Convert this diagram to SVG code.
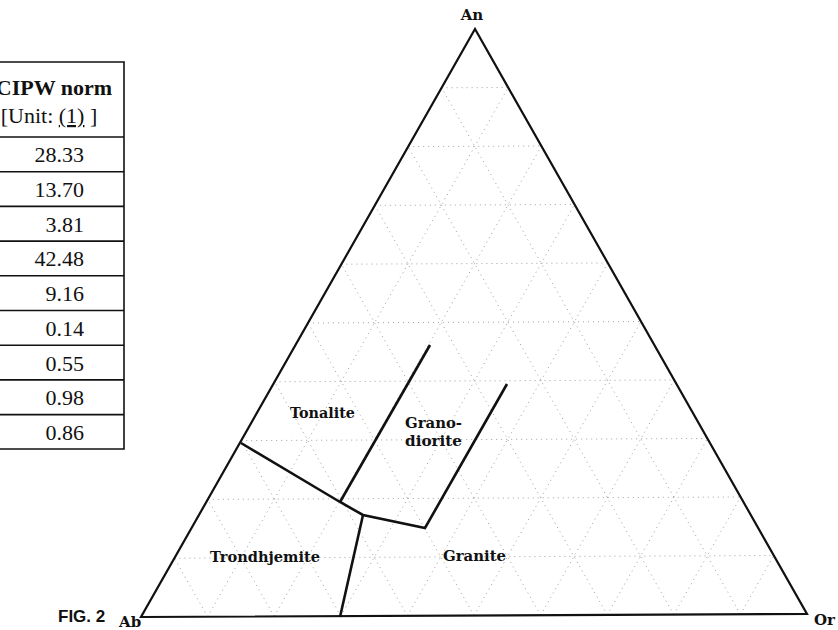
<svg xmlns="http://www.w3.org/2000/svg" width="838" height="630" viewBox="0 0 838 630">
<style>
.tb{fill:none;stroke:#111;stroke-width:1.6}
.tv{font-family:"Liberation Serif",serif;font-size:22px;fill:#111;text-anchor:end}
.th{font-family:"Liberation Serif",serif;font-size:22px;fill:#111;text-anchor:middle}
.grid{fill:none;stroke:#a0a0a0;stroke-width:1;stroke-dasharray:1 4}
.edge{fill:none;stroke:#111;stroke-width:2.2;stroke-linejoin:miter}
.bd{fill:none;stroke:#111;stroke-width:2.6;stroke-linejoin:miter}
.field{font-family:"DejaVu Serif",serif;font-weight:bold;font-size:15px;fill:#111}
.apex{font-family:"DejaVu Serif",serif;font-weight:bold;font-size:15px;fill:#111}
.fig{font-family:"Liberation Sans",sans-serif;font-weight:bold;font-size:17px;fill:#111}
</style>
<rect width="838" height="630" fill="#fff"/>
<g id="table">
<polyline class="tb" points="0,62 124,62 124,449 0,449"/>
<line class="tb" x1="0" y1="137" x2="124" y2="137"/>
<line class="tb" x1="0" y1="171.7" x2="124" y2="171.7"/>
<line class="tb" x1="0" y1="206.4" x2="124" y2="206.4"/>
<line class="tb" x1="0" y1="241.1" x2="124" y2="241.1"/>
<line class="tb" x1="0" y1="275.8" x2="124" y2="275.8"/>
<line class="tb" x1="0" y1="310.5" x2="124" y2="310.5"/>
<line class="tb" x1="0" y1="345.2" x2="124" y2="345.2"/>
<line class="tb" x1="0" y1="379.9" x2="124" y2="379.9"/>
<line class="tb" x1="0" y1="414.6" x2="124" y2="414.6"/>
<text class="th" x="54" y="95" font-weight="bold">CIPW norm</text>
<text class="th" x="49" y="123">[Unit: <tspan text-decoration="underline">(1)</tspan> ]</text>
<text class="tv" x="84" y="162">28.33</text>
<text class="tv" x="84" y="197">13.70</text>
<text class="tv" x="84" y="232">3.81</text>
<text class="tv" x="84" y="266">42.48</text>
<text class="tv" x="84" y="301">9.16</text>
<text class="tv" x="84" y="336">0.14</text>
<text class="tv" x="84" y="371">0.55</text>
<text class="tv" x="84" y="405">0.98</text>
<text class="tv" x="84" y="440">0.86</text>
</g>
<g id="grid">
<path class="grid" d="M174.4,558.2L773.8,555.5M207.8,499.4L740.6,497M241.2,440.6L707.4,438.5M274.6,381.8L674.2,380M308,323L641,321.5M341.4,264.2L607.8,263M374.8,205.4L574.6,204.5M408.2,146.6L541.4,146M441.6,87.8L508.2,87.5"/>
<path class="grid" d="M207.6,616.7L508.2,87.5M274.2,616.4L541.4,146M340.8,616.1L574.6,204.5M407.4,615.8L607.8,263M474,615.5L641,321.5M540.6,615.2L674.2,380M607.2,614.9L707.4,438.5M673.8,614.6L740.6,497M740.4,614.3L773.8,555.5"/>
<path class="grid" d="M740.4,614.3L441.6,87.8M673.8,614.6L408.2,146.6M607.2,614.9L374.8,205.4M540.6,615.2L341.4,264.2M474,615.5L308,323M407.4,615.8L274.6,381.8M340.8,616.1L241.2,440.6M274.2,616.4L207.8,499.4M207.6,616.7L174.4,558.2"/>
</g>
<g id="triangle">
<polygon class="edge" points="141,617 807,614 475,29"/>
</g>
<g id="connectors">
<polyline class="bd" points="241,443 340,502 363,515 425,528 507,384"/>
<line class="bd" x1="340" y1="502" x2="430" y2="345"/>
<line class="bd" x1="363" y1="515" x2="340" y2="617"/>
</g>
<g id="labels">
<g id="node-An"><text class="apex" x="472" y="20" text-anchor="middle">An</text></g>
<g id="node-Or"><text class="apex" x="814" y="625" font-size="18">Or</text></g>
<g id="node-Ab"><text class="apex" x="119" y="627" font-size="14">Ab</text></g>
<g id="node-Tonalite"><text class="field" x="290" y="418" textLength="65" lengthAdjust="spacingAndGlyphs">Tonalite</text></g>
<g id="node-Granodiorite"><text class="field" x="405" y="428" textLength="57" lengthAdjust="spacingAndGlyphs">Grano-</text><text class="field" x="405" y="446" textLength="57" lengthAdjust="spacingAndGlyphs">diorite</text></g>
<g id="node-Trondhjemite"><text class="field" x="210" y="562" textLength="110" lengthAdjust="spacingAndGlyphs">Trondhjemite</text></g>
<g id="node-Granite"><text class="field" x="443" y="561" textLength="63" lengthAdjust="spacingAndGlyphs">Granite</text></g>
<text class="fig" x="58" y="622">FIG. 2</text>
</g>
</svg>
